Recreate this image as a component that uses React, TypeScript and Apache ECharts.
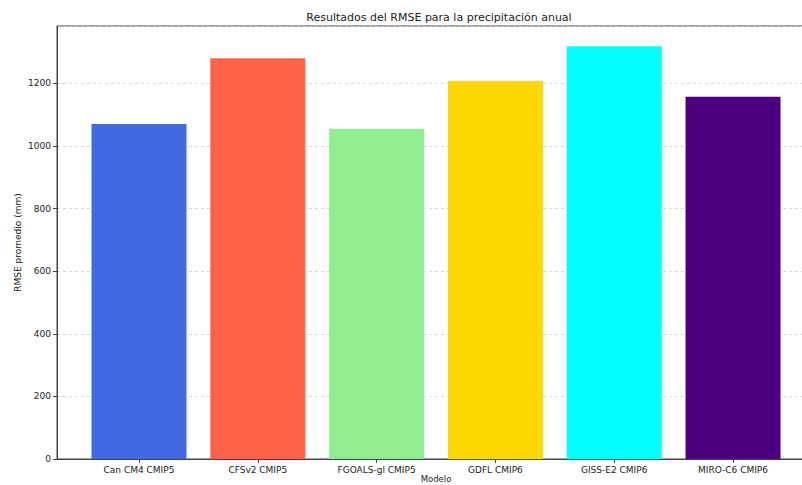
import React, { useEffect, useRef } from "react";
import * as echarts from "echarts";

const categories = ["Can CM4 CMIP5", "CFSv2 CMIP5", "FGOALS-gl CMIP5", "GDFL CMIP6", "GISS-E2 CMIP6", "MIRO-C6 CMIP6"];
const rmseValues = [1070, 1280, 1055, 1208, 1318, 1157];
const barColors = ["#4169E1", "#FF6347", "#90EE90", "#FFD700", "#00FFFF", "#4B0082"];
const categoryIndex = [0, 1, 2, 3, 4, 5];

const FONT = "DejaVu Sans";

export default function App() {
  const ref = useRef<HTMLDivElement>(null);
  useEffect(() => {
    if (!ref.current) return;
    const chart = echarts.init(ref.current, null, { renderer: "svg" });
    chart.setOption({
      animation: false,
      backgroundColor: "#ffffff",
      title: {
        text: "Resultados del RMSE para la precipitación anual",
        left: 434,
        top: 7,
        textAlign: "center",
        textStyle: { fontFamily: FONT, fontSize: 11, fontWeight: "normal", color: "#222" },
      },
      grid: {
        left: 57,
        top: 26,
        width: 758,
        height: 433,
        containLabel: false,
        outerBoundsMode: "none",
        show: true,
        borderColor: "#444",
        borderWidth: 1,
        backgroundColor: "transparent",
      },
      xAxis: {
        type: "value",
        min: -0.69,
        max: 5.69,
        name: "Modelo",
        nameLocation: "middle",
        nameGap: 15,
        nameMoveOverlap: false,
        nameTextStyle: { fontFamily: FONT, fontSize: 8.5, color: "#222", verticalAlign: "top", lineHeight: 10 },
        axisLine: { show: true, onZero: false, lineStyle: { color: "#444", width: 1 } },
        axisTick: { show: true, length: 4, customValues: categoryIndex, lineStyle: { color: "#444" } },
        axisLabel: {
          customValues: categoryIndex,
          formatter: (v: number) => categories[Math.round(v)] ?? "",
          fontFamily: FONT,
          fontSize: 9,
          color: "#222",
          margin: 6,
        },
        splitLine: { show: false },
      },
      yAxis: {
        type: "value",
        min: 0,
        max: 1383,
        interval: 200,
        name: "RMSE promedio (mm)",
        nameLocation: "middle",
        nameGap: 35,
        nameMoveOverlap: false,
        nameTextStyle: { fontFamily: FONT, fontSize: 9, color: "#222" },
        axisLine: { show: true, onZero: false, lineStyle: { color: "#444", width: 1 } },
        axisTick: { show: true, length: 4, lineStyle: { color: "#444" } },
        axisLabel: {
          fontFamily: FONT,
          fontSize: 9,
          color: "#222",
          margin: 6,
          showMaxLabel: false,
          formatter: (v: number) => String(v),
        },
        splitLine: { show: true, lineStyle: { color: "#cccccc", type: [3, 3], width: 0.8 } },
      },
      series: [
        {
          type: "bar",
          barWidth: 95,
          data: categoryIndex.map((i) => ({
            value: [i, rmseValues[i]],
            itemStyle: { color: barColors[i] },
          })),
        },
      ],
    });
    return () => chart.dispose();
  }, []);
  return <div ref={ref} style={{ position: "fixed", left: 0, top: 0, width: 802, height: 485 }} />;
}
